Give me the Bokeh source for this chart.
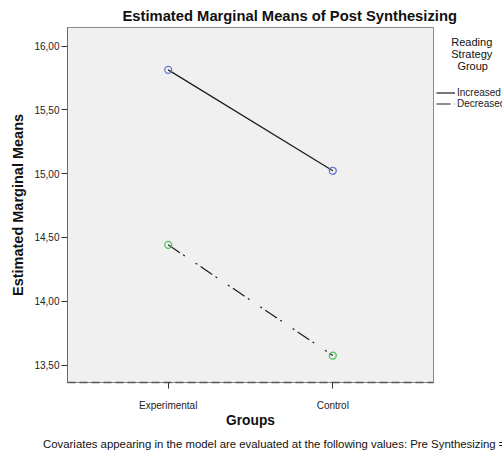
from bokeh.plotting import figure
from bokeh.models import (FactorRange, Range1d, FixedTicker, CustomJSTickFormatter,
                          LinearAxis, Legend, LegendItem)
from bokeh.embed import file_html
from bokeh.resources import INLINE

groups = ["Experimental", "Control"]
increased = [15.813, 15.022]
decreased = [14.442, 13.574]
y_ticks = [13.5, 14.0, 14.5, 15.0, 15.5, 16.0]
series_names = ["Increased", "Decreased"]
legend_title_lines = ["Reading", "Strategy", "Group"]
note_text = "Covariates appearing in the model are evaluated at the following values: Pre Synthesizing ="

FONT = "Liberation Sans"
NB = "\u00a0"

p = figure(frame_width=366, frame_height=355, output_backend="svg", toolbar_location=None,
           x_range=FactorRange(factors=groups, range_padding=0.112, range_padding_units="absolute"),
           y_range=Range1d(13.363, 16.145),
           min_border_left=67, min_border_right=69, min_border_top=27, min_border_bottom=75)

p.background_fill_color = "#F0F0F0"
p.border_fill_color = "white"
p.outline_line_color = "#8a8a8a"
p.outline_line_width = 1
p.xgrid.visible = False
p.ygrid.visible = False

# title
p.title.text = "Estimated Marginal Means of Post Synthesizing"
p.title.text_font = FONT
p.title.text_font_size = "14.75px"
p.title.text_font_style = "bold"
p.title.text_color = "#111111"
p.title.align = "left"
p.title.offset = 55
p.title.standoff = 8

# y axis
p.yaxis.ticker = FixedTicker(ticks=y_ticks)
p.yaxis.formatter = CustomJSTickFormatter(code="return tick.toFixed(2).replace('.', ',');")
p.yaxis.axis_line_color = "#6a6a6a"
p.yaxis.major_tick_line_color = "#333333"
p.yaxis.major_tick_out = 6
p.yaxis.major_tick_in = 0
p.yaxis.minor_tick_line_color = None
p.yaxis.major_label_standoff = 2
p.yaxis.major_label_text_font = FONT
p.yaxis.major_label_text_font_size = "10px"
p.yaxis.major_label_text_color = "#222222"
p.yaxis.axis_label = "Estimated Marginal Means"
p.yaxis.axis_label_text_font = FONT
p.yaxis.axis_label_text_font_size = "14.5px"
p.yaxis.axis_label_text_font_style = "bold"
p.yaxis.axis_label_text_color = "#111111"
p.yaxis.axis_label_standoff = 5

# x axis
p.xaxis.axis_line_color = "#555555"
p.xaxis.axis_line_dash = "8 4"
p.xaxis.axis_line_width = 1.5
p.xaxis.major_tick_line_color = "#333333"
p.xaxis.major_tick_out = 6
p.xaxis.major_tick_in = 0
p.xaxis.minor_tick_line_color = None
p.xaxis.major_label_standoff = 11
p.xaxis.major_label_text_font = FONT
p.xaxis.major_label_text_font_size = "10px"
p.xaxis.major_label_text_color = "#222222"
p.xaxis.axis_label = "Groups"
p.xaxis.axis_label_text_font = FONT
p.xaxis.axis_label_text_font_size = "13.75px"
p.xaxis.axis_label_text_font_style = "bold"
p.xaxis.axis_label_text_color = "#111111"
p.xaxis.axis_label_standoff = -1

# covariates note: label of a bare second axis below (no ticks)
note_axis = LinearAxis(ticker=FixedTicker(ticks=[]), axis_line_color=None,
                       major_tick_line_color=None, minor_tick_line_color=None,
                       major_tick_out=0, major_tick_in=0, major_label_standoff=0,
                       axis_label=NB * 15 + note_text,
                       axis_label_text_font=FONT, axis_label_text_font_size="11.4px",
                       axis_label_text_font_style="normal",
                       axis_label_text_color="#111111", axis_label_standoff=7)
p.add_layout(note_axis, "below")

# series
l1 = p.line(groups, increased, line_color="#1a1a1a", line_width=1.2)
l2 = p.line(groups, decreased, line_color="#1a1a1a", line_width=1.2, line_dash="14 4 2 13 2 4")
p.scatter(groups, increased, marker="circle", size=7, fill_color=None,
          line_color="#6478d2", line_width=1.3)
p.scatter(groups, decreased, marker="circle", size=7, fill_color=None,
          line_color="#52c45a", line_width=1.3)

# legend title lines, centred with no-break spaces
indents = [5, 5, 7]
legend_title = "\n".join(NB * n + t for n, t in zip(indents, legend_title_lines))

legend = Legend(items=[LegendItem(label=series_names[0], renderers=[l1]),
                       LegendItem(label=series_names[1], renderers=[l2])],
                title=legend_title,
                title_text_font=FONT, title_text_font_size="11px",
                title_text_font_style="normal", title_text_color="#111111",
                title_standoff=15,
                location=(3, 273), padding=0, margin=0, spacing=0,
                glyph_width=19, glyph_height=11, label_height=11, label_standoff=2,
                label_text_font=FONT, label_text_font_size="10px",
                label_text_color="#222222",
                background_fill_alpha=0, border_line_alpha=0)
p.add_layout(legend, "right")

open("out.html", "w").write(file_html(p, INLINE))
